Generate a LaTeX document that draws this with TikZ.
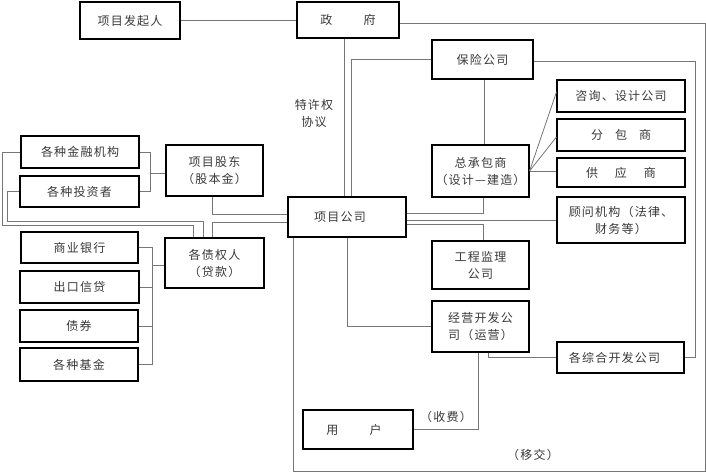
\documentclass[tikz,border=0pt]{standalone}
\usepackage{fontspec}
\usepackage{xcolor}
\usepackage{tikz}
\setmainfont{Noto Sans CJK SC}[LetterSpace=10]
\definecolor{linegray}{RGB}{118,118,118}

\begin{document}
\begin{tikzpicture}[x=1pt,y=-1pt,%
% common options for the boxes:
box/.style = {draw=black, line width=1.1pt, rectangle, align=center,
            inner sep=0, text=black!78, font=\fontsize{12}{17}\selectfont},
% common options for the connecting lines:
link/.style = {draw=linegray, line width=0.8pt},
lbl/.style = {align=center, inner sep=0, text=black!78, font=\fontsize{12}{17}\selectfont}]
\useasboundingbox (0,0) rectangle (706,472);
% top row
\node[box,minimum width=100pt,minimum height=37pt] (fqr) at (130,20.5) {项目发起人};
\node[box,minimum width=102pt,minimum height=36pt] (zf) at (348,20) {政\hspace{2.6em}府};
% right column
\node[box,minimum width=101pt,minimum height=39pt] (bx) at (482.5,59.5) {保险公司};
\node[box,minimum width=97pt,minimum height=52pt] (zcb) at (480.5,171) {总承包商\\（设计—建造）};
\node[box,minimum width=128pt,minimum height=32pt] (zx) at (621,96) {咨询、设计公司};
\node[box,minimum width=128pt,minimum height=32pt] (fb) at (621,135) {分\hspace{1em}包\hspace{1em}商};
\node[box,minimum width=128pt,minimum height=29pt] (gy) at (621,172.5) {供\hspace{1.4em}应\hspace{1.4em}商};
\node[box,minimum width=128pt,minimum height=46pt] (gw) at (621,220) {顾问机构（法律、\\财务等）};
\node[box,minimum width=118pt,minimum height=40pt] (xm) at (347,217) {项目公司\hspace*{14pt}};
\node[box,minimum width=97pt,minimum height=48pt] (jl) at (480.5,265) {工程监理\\公司};
\node[box,minimum width=97pt,minimum height=51pt] (jy) at (480.5,326.5) {经营开发公\\司（运营）};
\node[box,minimum width=127pt,minimum height=31pt] (zh) at (620.5,357.5) {各综合开发公司\hspace*{12pt}};
\node[box,minimum width=110pt,minimum height=39pt] (yh) at (358,429.5) {用\hspace{2.6em}户\hspace*{8pt}};
% left column
\node[box,minimum width=118pt,minimum height=32pt] (jr) at (80,152) {各种金融机构};
\node[box,minimum width=119pt,minimum height=31pt] (tz) at (79.5,191.5) {各种投资者};
\node[box,minimum width=97pt,minimum height=51pt] (gd) at (214.5,170.5) {项目股东\\（股本金）};
\node[box,minimum width=99pt,minimum height=50pt] (zq) at (214.5,263) {各债权人\\（贷款）};
\node[box,minimum width=117pt,minimum height=31pt] (yx) at (79.5,247.5) {商业银行};
\node[box,minimum width=119pt,minimum height=32pt] (ck) at (79.5,287) {出口信贷};
\node[box,minimum width=118pt,minimum height=32pt] (zj) at (79,326) {债券};
\node[box,minimum width=118pt,minimum height=33pt] (jj) at (79,364.5) {各种基金};
% labels
\node[lbl] (txq) at (314,113) {特许权\\协议};
\node[lbl] (sf) at (446,417) {（收费）};
\node[lbl] (yj) at (533,455) {（移交）};
% helper points
\coordinate (ne) at (705,23);
\coordinate (se) at (705,471);
\coordinate (sw) at (293,471);
\coordinate (r2) at (695,0);
\coordinate (b1) at (150,0);
\coordinate (b2) at (152,0);
\coordinate (l1) at (2,225);
\coordinate (l2) at (7,221);
% connections
\draw[link] (fqr.east) -- (fqr.east -| zf.west);
\draw[link] ([xshift=-4pt]zf.south) -- ([xshift=-4pt]zf.south |- xm.north);
\draw[link] (bx.west) -| ([xshift=4pt]xm.north);
\draw[link] ([yshift=-3pt]zf.east) -- ([yshift=-3pt]zf.east -| ne) -- (se) -- (sw) -- (sw |- xm.south);
\draw[link] ([yshift=-1.5pt]bx.east) -| (r2 |- zh.east) -- (zh.east);
\draw[link] ([xshift=1.5pt]bx.south) -- ([xshift=1.5pt]bx.south |- zcb.north);
\draw[link] (zcb.east) -- ([yshift=4pt]zx.west);
\draw[link] (zcb.east) -- ([yshift=-2pt]fb.west);
\draw[link] (zcb.east) -- (zcb.east -| gy.west);
\draw[link] ([yshift=4pt]xm.east) -| ([xshift=2.5pt]zcb.south);
\draw[link] (xm.east |- gw.west) -- (gw.west);
\draw[link] ([yshift=-7pt]xm.east) -| ([xshift=2.5pt]jl.north);
\draw[link] (xm.south) |- (jy.west);
\draw[link] ([xshift=7.5pt]jy.south) |- (zh.west);
\draw[link] ([xshift=-2.5pt]jy.south) |- (yh.east);
% left brackets
\draw[link] (jr.east) -| (b1 |- tz.east) -- (tz.east);
\draw[link] (gd.west |- 0,173) -- (b1 |- 0,173);
\draw[link] ([xshift=-2.5pt]gd.south) |- ([yshift=3pt]xm.west);
\draw[link] ([yshift=-5pt]xm.west) -| ([xshift=-2.5pt]zq.north);
\draw[link] (jr.west) -| (l1) -| ([xshift=-21.5pt]zq.north);
\draw[link] (tz.west) -| (l2) -| ([xshift=-11.5pt]zq.north);
\draw[link] (yx.east) -| (b2 |- jj.east) -- (jj.east);
\draw[link] (ck.east) -- (ck.east -| b2);
\draw[link] (zj.east) -- (zj.east -| b2);
\draw[link] ([yshift=-2pt]zq.west) -- ([yshift=-2pt]zq.west -| b2);
\end{tikzpicture}
\end{document}
